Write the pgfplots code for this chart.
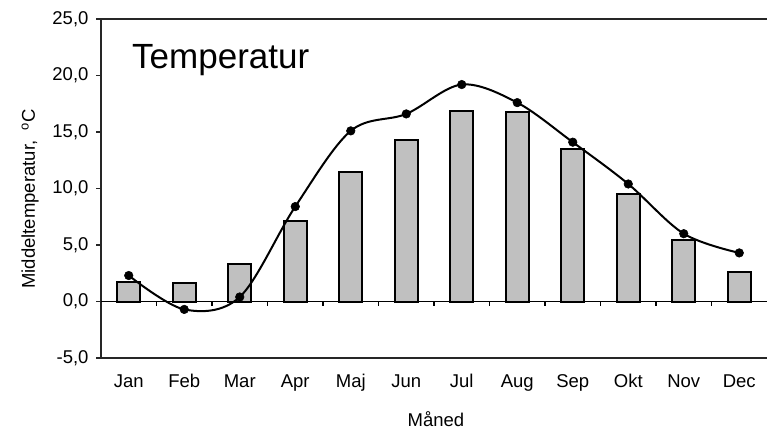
\documentclass[border=0pt]{standalone}
\usepackage{fontspec}
\setmainfont{Liberation Sans}
\usepackage{pgfplots}
\pgfplotsset{compat=1.18}
\definecolor{bargray}{HTML}{C0C0C0}
\begin{document}
\begin{tikzpicture}[x=1pt,y=1pt]
\useasboundingbox (0,0) rectangle (767,429);
\begin{axis}[
  at={(101pt,71pt)}, anchor=south west,
  scale only axis, width=666pt, height=339pt,
  xmin=-0.5, xmax=11.5, ymin=-5, ymax=25,
  axis x line*=bottom, axis y line*=left,
  axis line style={black!85, line width=1.4pt},
  xtick={0,...,11},
  xticklabels={Jan,Feb,Mar,Apr,Maj,Jun,Jul,Aug,Sep,Okt,Nov,Dec},
  x tick style={draw=none},
  ytick={-5,0,...,25},
  y tick style={black!85, line width=1.2pt},
  tick align=outside, major tick length=5pt,
  yticklabel={\pgfmathprintnumber[fixed,fixed zerofill,precision=1,use comma,assume math mode=true]{\tick}},
  tick label style={font=\fontsize{18.5}{20}\selectfont},
  x tick label style={anchor=base, yshift=-24pt},
  y tick label style={xshift=-4pt},
  clip=false,
]
\addplot[ybar, bar width=23pt, fill=bargray, draw=black, line width=2pt]
  coordinates {(0,1.7) (1,1.6) (2,3.3) (3,7.1) (4,11.5) (5,14.3) (6,16.9) (7,16.8) (8,13.5) (9,9.5) (10,5.4) (11,2.6)};
\addplot[black, line width=1.2pt] coordinates {(-0.5,0) (11.5,0)};
\addplot[black, line width=1.2pt, ycomb] coordinates {(0.5,-0.44) (1.5,-0.44) (2.5,-0.44) (3.5,-0.44) (4.5,-0.44) (5.5,-0.44) (6.5,-0.44) (7.5,-0.44) (8.5,-0.44) (9.5,-0.44) (10.5,-0.44)};
\addplot[black, line width=2pt, smooth, tension=0.55, mark=*, mark size=4.3pt, mark options={fill=black, line width=0.5pt}]
  coordinates {(0,2.3) (1,-0.7) (2,0.4) (3,8.4) (4,15.1) (5,16.6) (6,19.2) (7,17.6) (8,14.1) (9,10.4) (10,6.0) (11,4.3)};
\draw[black!85, line width=1.4pt] (rel axis cs:0,1) -- (rel axis cs:1,1);
\end{axis}
\node[anchor=base west, font=\fontsize{35}{40}\selectfont, inner sep=0pt] at (132,360) {Temperatur};
\node[anchor=base, font=\fontsize{18.5}{20}\selectfont, inner sep=0pt] at (436,2.5) {Måned};
\node[anchor=base, rotate=90, font=\fontsize{18.5}{20}\selectfont, inner sep=0pt] at (35,230) {Middeltemperatur,\ \ \textsuperscript{o}C};
\end{tikzpicture}
\end{document}
